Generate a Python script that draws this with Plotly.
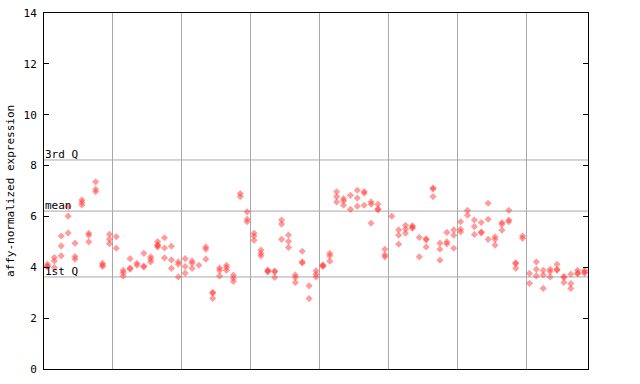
import plotly.graph_objects as go

# expression values per sample column (replicates)
replicates = [
    [4.12, 4.05, 4.02], [4.38, 4.25, 3.99], [5.23, 4.84, 4.45], [6.38, 6.01, 5.35],
    [4.95, 4.42, 4.32], [6.65, 6.55, 6.45], [5.34, 5.26, 5.00], [7.36, 7.07, 6.97],
    [4.16, 4.09, 4.03], [5.30, 5.10, 4.93], [5.20, 4.75], [3.88, 3.79, 3.66],
    [4.34, 3.97, 3.93], [4.16, 4.08], [4.55, 4.05, 4.01], [4.41, 4.32, 4.21],
    [5.01, 4.89, 4.85, 4.80], [5.16, 4.76, 4.37], [4.83, 4.29, 3.96], [4.21, 4.12, 3.62],
    [4.34, 4.03, 3.77], [4.25, 4.16, 3.96], [4.08], [4.80, 4.71, 4.32],
    [3.02, 2.98, 2.78], [3.97, 3.88, 3.66], [4.08, 3.99, 3.88], [3.69, 3.57, 3.44],
    [6.90, 6.78], [6.18, 5.89, 5.79], [5.34, 5.23, 5.06], [4.68, 4.55, 4.45],
    [3.89, 3.85, 3.82], [3.85, 3.82, 3.60], [5.86, 5.70, 5.10], [5.27, 5.02, 4.78],
    [3.70, 3.60, 3.40], [4.63, 4.21, 4.17], [3.27, 2.77], [3.86, 3.73, 3.62],
    [4.10, 4.06, 4.03], [4.55, 4.45, 4.24], [6.97, 6.78, 6.57], [6.70, 6.61, 6.44],
    [6.83, 6.28], [7.03, 6.72, 6.40], [6.98, 6.91, 6.44], [6.57, 6.48, 5.73],
    [6.48, 6.30, 6.26], [4.71, 4.49, 4.41], [6.01], [5.47, 5.26, 4.91],
    [5.65, 5.50, 5.34], [5.63, 5.58, 5.54], [5.17, 4.41], [5.12, 5.08, 4.80],
    [7.12, 7.08, 6.78], [4.95, 4.71, 4.28], [5.37, 5.00, 4.92], [5.47, 5.26, 4.75],
    [5.79, 5.50, 5.39], [6.24, 6.05], [5.86, 5.60, 5.29], [5.76, 5.39, 5.35],
    [6.52, 5.89, 5.10], [5.20, 5.10, 4.87], [5.76, 5.69, 5.46], [6.24, 5.86, 5.79],
    [4.18, 4.14, 3.96], [5.23, 5.14], [3.76, 3.37], [4.21, 3.92, 3.66],
    [3.88, 3.70, 3.17], [3.92, 3.83, 3.62], [4.12, 3.92, 3.88], [3.64, 3.60, 3.40],
    [3.73, 3.36, 3.17], [3.88, 3.78, 3.74], [3.88, 3.81, 3.77],
]

# reference statistics lines
q3_value = 8.22
mean_value = 6.21
q1_value = 3.62
stat_labels = ["3rd Q", "mean", "1st Q"]

y_ticks = [0, 2, 4, 6, 8, 10, 12, 14]
group_bounds = [10, 20, 30, 40, 50, 60, 70]

xs, ys = [], []
for i, vals in enumerate(replicates):
    for v in vals:
        xs.append(i + 0.5)
        ys.append(v)

n_cols = len(replicates)

fig = go.Figure()
fig.add_trace(go.Scatter(
    x=xs, y=ys, mode="markers",
    marker=dict(symbol="diamond", size=5.5, color="rgba(255,60,60,0.5)",
                line=dict(width=0)),
    hoverinfo="y", showlegend=False,
))

mono = "DejaVu Sans Mono"
for val, lab in zip([q3_value, mean_value, q1_value], stat_labels):
    fig.add_shape(type="line", xref="paper", yref="y", x0=0, x1=1, y0=val, y1=val,
                  line=dict(color="#a8a8a8", width=1), layer="below")
    fig.add_annotation(xref="paper", yref="y", x=0.0, y=val, text=lab,
                       showarrow=False, xanchor="left", yanchor="bottom",
                       xshift=-1, yshift=-3,
                       font=dict(family=mono, size=11, color="black"))

fig.add_annotation(xref="paper", yref="paper", x=0, y=0.5, xshift=-34,
                   text="affy-normalized expression", textangle=-90,
                   showarrow=False, xanchor="center", yanchor="middle",
                   font=dict(family=mono, size=11, color="black"))

fig.update_layout(
    width=640, height=384,
    margin=dict(l=44, r=52, t=13, b=15),
    paper_bgcolor="white", plot_bgcolor="white",
    xaxis=dict(range=[0, n_cols], tickvals=group_bounds, showticklabels=False,
               ticks="", showgrid=True, gridcolor="#a8a8a8", gridwidth=1,
               zeroline=False, showline=True, linecolor="black", linewidth=1,
               mirror=True, automargin=False),
    yaxis=dict(range=[0, 14], tickvals=y_ticks, ticks="inside", ticklen=5,
               tickcolor="black", showgrid=False, zeroline=False,
               showline=True, linecolor="black", linewidth=1, mirror="ticks",
               ticklabelstandoff=4, automargin=False, ticklabeloverflow="allow",
               tickfont=dict(family=mono, size=11, color="black")),
)

fig.write_html("out.html", config={"displayModeBar": False},
               post_script="document.body.style.margin='0px';document.body.style.padding='0px';")
